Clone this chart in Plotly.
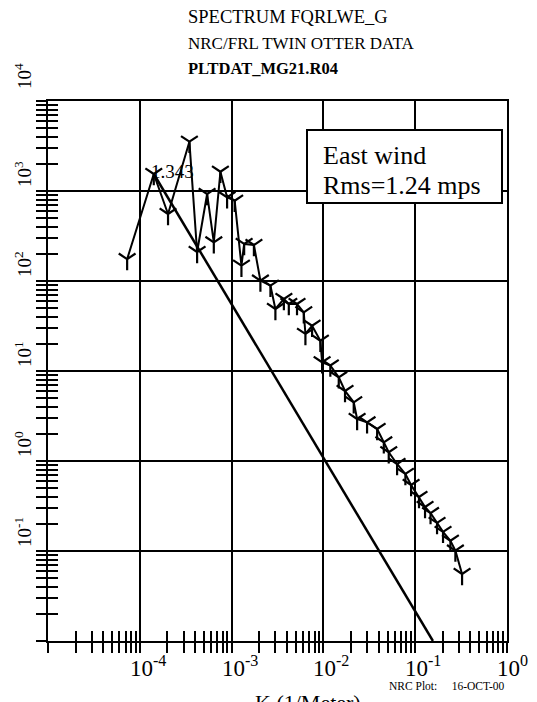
import plotly.graph_objects as go

# ---- data ----
K = [7.28e-5, 1.42e-4, 2.03e-4, 3.47e-4, 4.21e-4, 5.41e-4, 6.40e-4, 7.55e-4, 8.93e-4, 1.08e-3,
     1.28e-3, 1.37e-3, 1.75e-3, 2.06e-3, 2.65e-3, 3.00e-3, 3.71e-3, 4.20e-3, 5.16e-3, 6.11e-3,
     6.37e-3, 7.53e-3, 9.27e-3, 9.68e-3, 1.19e-2, 1.47e-2, 1.72e-2, 2.14e-2, 2.33e-2, 2.99e-2,
     3.85e-2, 4.55e-2, 5.15e-2, 6.35e-2, 7.82e-2, 9.02e-2, 0.110, 0.128, 0.147, 0.173,
     0.201, 0.242, 0.274, 0.324]
S = [175, 1545, 555, 3532, 210, 927, 269, 1637, 851, 780,
     148, 258, 251, 101, 88.7, 48.9, 63.1, 55.5, 55.5, 44.9,
     25.8, 31.8, 21.7, 12.5, 11.5, 8.51, 6.00, 4.49, 2.93, 2.69,
     2.27, 1.61, 1.25, 0.927, 0.718, 0.541, 0.398, 0.308, 0.264, 0.205,
     0.163, 0.130, 0.101, 0.0555]

FIT_K = [1.42e-4, 0.156]
FIT_S = [1545, 0.01]
FIT_LABEL = "1.343"

X_EXP = [-5, -4, -3, -2, -1, 0]
Y_EXP = [-2, -1, 0, 1, 2, 3, 4]
X_TICK_LABELS = ["", "10<sup>-4</sup>", "10<sup>-3</sup>", "10<sup>-2</sup>", "10<sup>-1</sup>", "10<sup>0</sup>"]
Y_TICK_LABELS = ["", "10<sup>-1</sup>", "10<sup>0</sup>", "10<sup>1</sup>", "10<sup>2</sup>", "10<sup>3</sup>", "10<sup>4</sup>"]

TITLE1 = "SPECTRUM FQRLWE_G"
TITLE2 = "NRC/FRL TWIN OTTER DATA"
TITLE3 = "PLTDAT_MG21.R04"
BOX_LINE1 = "East wind"
BOX_LINE2 = "Rms=1.24 mps"
X_TITLE = "K (1/Meter)"
FOOTER = "NRC Plot:&nbsp;&nbsp;&nbsp;&nbsp;&nbsp;16-OCT-00"

# ---- layout geometry (page body has an 8px margin) ----
PAGE_OFF = 8
W, H = 537 - PAGE_OFF, 702 - PAGE_OFF
PLOT_LEFT, PLOT_RIGHT, PLOT_TOP, PLOT_BOTTOM = 48, 507, 101, 641   # screen pixels
L = PLOT_LEFT - PAGE_OFF
T = PLOT_TOP - PAGE_OFF
R = W - (PLOT_RIGHT - PAGE_OFF)
B = H - (PLOT_BOTTOM - PAGE_OFF)
PW, PH = PLOT_RIGHT - PLOT_LEFT, PLOT_BOTTOM - PLOT_TOP
FONT = "Liberation Serif"


def px(xp):
    return (xp - PLOT_LEFT) / PW


def py(yp):
    return (PLOT_BOTTOM - yp) / PH


x_major = [10.0 ** e for e in X_EXP]
x_minor = [m * 10.0 ** e for e in X_EXP[:-1] for m in range(2, 10)]
y_major = [10.0 ** e for e in Y_EXP]
y_minor = [m * 10.0 ** e for e in Y_EXP[:-1] for m in range(2, 10)]

fig = go.Figure()
fig.add_trace(go.Scatter(x=FIT_K, y=FIT_S, mode="lines",
                         line=dict(color="black", width=2.5), showlegend=False, hoverinfo="skip"))
fig.add_trace(go.Scatter(x=K, y=S, mode="lines+markers",
                         line=dict(color="black", width=2),
                         marker=dict(symbol="y-down", size=14, color="black",
                                     line=dict(color="black", width=2.2)),
                         showlegend=False))

tick_common = dict(tickwidth=2, tickcolor="black", ticklen=10)

fig.update_layout(
    width=W, height=H,
    margin=dict(l=L, r=R, t=T, b=B),
    paper_bgcolor="white", plot_bgcolor="white",
    font=dict(family=FONT, color="black"),
    xaxis=dict(type="log", range=[-5, 0], tickvals=x_major, showticklabels=False,
               ticks="outside", **tick_common,
               showgrid=True, gridcolor="black", gridwidth=2,
               showline=True, linecolor="black", linewidth=2, mirror=True, zeroline=False,
               minor=dict(tickvals=x_minor, ticks="outside", showgrid=False, **tick_common)),
    yaxis=dict(type="log", range=[-2, 4], tickvals=y_major, showticklabels=False,
               ticks="outside", **tick_common,
               showgrid=True, gridcolor="black", gridwidth=2,
               showline=True, linecolor="black", linewidth=2, mirror=True, zeroline=False,
               minor=dict(tickvals=y_minor, ticks="outside", showgrid=False, **tick_common)),
    xaxis2=dict(type="log", range=[-5, 0], overlaying="x", anchor="y", side="bottom",
                tickvals=x_major, showticklabels=False, ticks="inside", **tick_common,
                showgrid=False, showline=False, zeroline=False,
                minor=dict(tickvals=x_minor, ticks="inside", showgrid=False, **tick_common)),
    yaxis2=dict(type="log", range=[-2, 4], overlaying="y", anchor="x", side="left",
                tickvals=y_major, showticklabels=False, ticks="inside", **tick_common,
                showgrid=False, showline=False, zeroline=False,
                minor=dict(tickvals=y_minor, ticks="inside", showgrid=False, **tick_common)),
)
# invisible carrier so the overlay axes are drawn
fig.add_trace(go.Scatter(x=[], y=[], xaxis="x2", yaxis="y2", showlegend=False))

ann = []
# x tick labels
for e, lab in zip(X_EXP, X_TICK_LABELS):
    if lab:
        ann.append(dict(x=e, y=0, xref="x", yref="paper", text=lab, showarrow=False,
                        xanchor="left", yanchor="top", xshift=-12, yshift=-9,
                        font=dict(size=23, family=FONT)))
# y tick labels (rotated)
for e, lab in zip(Y_EXP, Y_TICK_LABELS):
    if lab:
        ann.append(dict(x=0, y=e, xref="paper", yref="y", text=lab, showarrow=False,
                        textangle=-90, xanchor="center", yanchor="bottom",
                        xshift=-25, yshift=10 if e == 4 else 2,
                        font=dict(size=19, family=FONT)))
# titles
ann.append(dict(x=px(186), y=py(17), xref="paper", yref="paper", text=TITLE1, showarrow=False,
                xanchor="left", yanchor="middle", font=dict(size=18.5, family=FONT)))
ann.append(dict(x=px(186), y=py(43), xref="paper", yref="paper", text=TITLE2, showarrow=False,
                xanchor="left", yanchor="middle", font=dict(size=17, family=FONT)))
ann.append(dict(x=px(186), y=py(68), xref="paper", yref="paper", text="<b>" + TITLE3 + "</b>",
                showarrow=False, xanchor="left", yanchor="middle", font=dict(size=16.5, family=FONT)))
# fit label
ann.append(dict(x=-3.847, y=3.189, xref="x", yref="y", text=FIT_LABEL, showarrow=False,
                xanchor="left", yanchor="middle", xshift=-5, yshift=2,
                font=dict(size=19, family=FONT)))
# box text
ann.append(dict(x=px(321), y=py(155), xref="paper", yref="paper", text=BOX_LINE1, showarrow=False,
                xanchor="left", yanchor="middle", font=dict(size=26, family=FONT)))
ann.append(dict(x=px(321), y=py(185), xref="paper", yref="paper", text=BOX_LINE2, showarrow=False,
                xanchor="left", yanchor="middle", font=dict(size=26, family=FONT)))
# x title (cut off at bottom)
ann.append(dict(x=px(308), y=py(688), xref="paper", yref="paper", text=X_TITLE, showarrow=False,
                xanchor="center", yanchor="top", font=dict(size=22, family=FONT)))
# footer
ann.append(dict(x=px(387), y=py(686), xref="paper", yref="paper", text=FOOTER, showarrow=False,
                xanchor="left", yanchor="middle", font=dict(size=11.5, family=FONT)))
fig.update_layout(annotations=ann)

fig.add_shape(type="rect", xref="paper", yref="paper",
              x0=px(307), x1=px(502), y0=py(203), y1=py(130),
              line=dict(color="black", width=2), fillcolor="white", layer="above")

fig.write_html("out.html")
